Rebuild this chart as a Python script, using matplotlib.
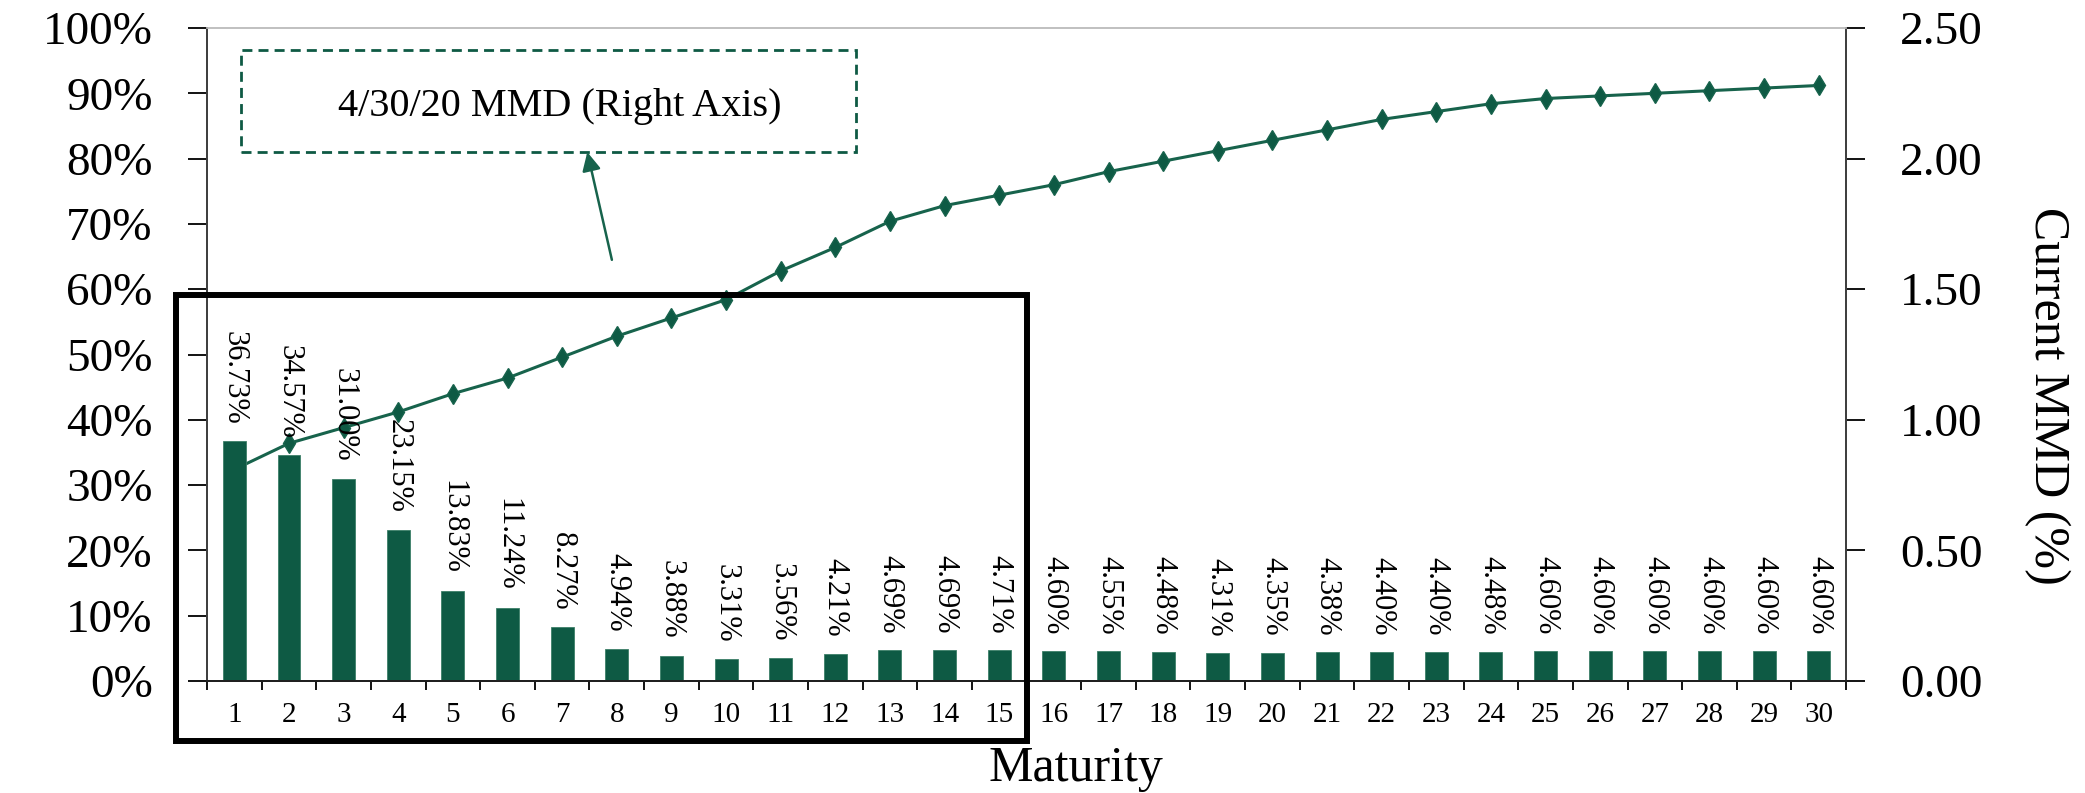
import matplotlib
matplotlib.use("Agg")
import matplotlib.pyplot as plt
from matplotlib.patches import Rectangle
from matplotlib.ticker import FixedLocator, FuncFormatter
import numpy as np

plt.rcParams['font.family'] = ['Liberation Serif', 'DejaVu Serif']

maturity = list(range(1, 31))
share_pct = [36.73, 34.57, 31.00, 23.15, 13.83, 11.24, 8.27, 4.94, 3.88, 3.31,
             3.56, 4.21, 4.69, 4.69, 4.71, 4.60, 4.55, 4.48, 4.31, 4.35,
             4.38, 4.40, 4.40, 4.48, 4.60, 4.60, 4.60, 4.60, 4.60, 4.60]
mmd = [0.81, 0.91, 0.97, 1.03, 1.10, 1.16, 1.24, 1.32, 1.39, 1.46,
       1.57, 1.66, 1.76, 1.82, 1.86, 1.90, 1.95, 1.99, 2.03, 2.07,
       2.11, 2.15, 2.18, 2.21, 2.23, 2.24, 2.25, 2.26, 2.27, 2.28]

bar_color = '#0e5a44'
line_color = '#17634c'
bg_color = '#f2f2f2'

fig = plt.figure(figsize=(20.85, 7.93), dpi=100)
ax = fig.add_axes([0.0993, 0.1412, 0.7861, 0.8235])
ax2 = ax.twinx()

# bars sit above the MMD line, so the bar axes goes on top
ax.set_zorder(ax2.get_zorder() + 1)
ax.patch.set_visible(False)
ax2.patch.set_facecolor(bg_color)

ax2.plot(maturity, mmd, color=line_color, linewidth=2.2, marker='d',
         markersize=10.5, markerfacecolor=bar_color, markeredgecolor=line_color)
ax2.set_ylim(0, 2.5)
ax2.set_yticks(np.arange(0, 2.51, 0.5))
ax2.yaxis.set_major_formatter(FuncFormatter(lambda v, _: f'{v:.2f}'))
ax2.tick_params(axis='y', labelsize=34, length=14, width=1.3, pad=25, direction='out')
ax2.set_ylabel('Current MMD (%)', fontsize=36, rotation=270, ha='center', va='center')
ax2.yaxis.set_label_coords(1.1226, 0.4365)

ax.bar(maturity, share_pct, width=0.42, color=bar_color, edgecolor='#3d7f68', linewidth=0.6)
for x, v in zip(maturity, share_pct):
    ax.annotate(f'{v:.2f}%', (x, v), xytext=(0, 12), textcoords='offset points',
                rotation=270, ha='center', va='bottom', fontsize=22)

ax.set_xlim(0.5, 30.5)
ax.set_ylim(0, 100)
ax.set_yticks(np.arange(0, 101, 10))
ax.yaxis.set_major_formatter(FuncFormatter(lambda v, _: f'{int(v)}%'))
ax.tick_params(axis='y', labelsize=34, length=14, width=1.3, pad=25, direction='out')

ax.set_xticks(maturity)
ax.xaxis.set_minor_locator(FixedLocator(np.arange(0.5, 31, 1)))
ax.tick_params(axis='x', which='major', length=0, labelsize=21, pad=15)
ax.tick_params(axis='x', which='minor', length=6.5, width=1.3, direction='out')
ax.set_xlabel('Maturity', fontsize=36)
ax.xaxis.set_label_coords(0.53, -0.098)

for a in (ax, ax2):
    a.spines['top'].set_color('#c0c0c0')
    a.spines['top'].set_linewidth(1.2)
    a.spines['left'].set_color('#404040')
    a.spines['right'].set_color('#404040')
    a.spines['bottom'].set_color('#202020')
    for s in ('left', 'right', 'bottom'):
        a.spines[s].set_linewidth(1.4)

# callout box for the line series
ax.add_patch(Rectangle((1.117, 81.06), 11.263, 15.54, facecolor='white',
                       edgecolor=bar_color, linewidth=2.0, linestyle=(0, (3.6, 2.2)),
                       zorder=5))
ax.text(6.96, 88.05, '4/30/20 MMD (Right Axis)', fontsize=29, ha='center',
        va='center', zorder=6)
ax.annotate('', xy=(7.46, 81.0), xytext=(7.91, 64.5),
            arrowprops=dict(arrowstyle='-|>', color=line_color, lw=1.8,
                            mutation_scale=28, shrinkA=0, shrinkB=0),
            zorder=6)

# highlight frame around the first 15 maturities
ax.add_patch(Rectangle((-0.0192, -0.0911), 0.5192, 0.6815, transform=ax.transAxes,
                       fill=False, edgecolor='black', linewidth=4.3, clip_on=False,
                       zorder=7))

fig.savefig('out.png', dpi=100)
